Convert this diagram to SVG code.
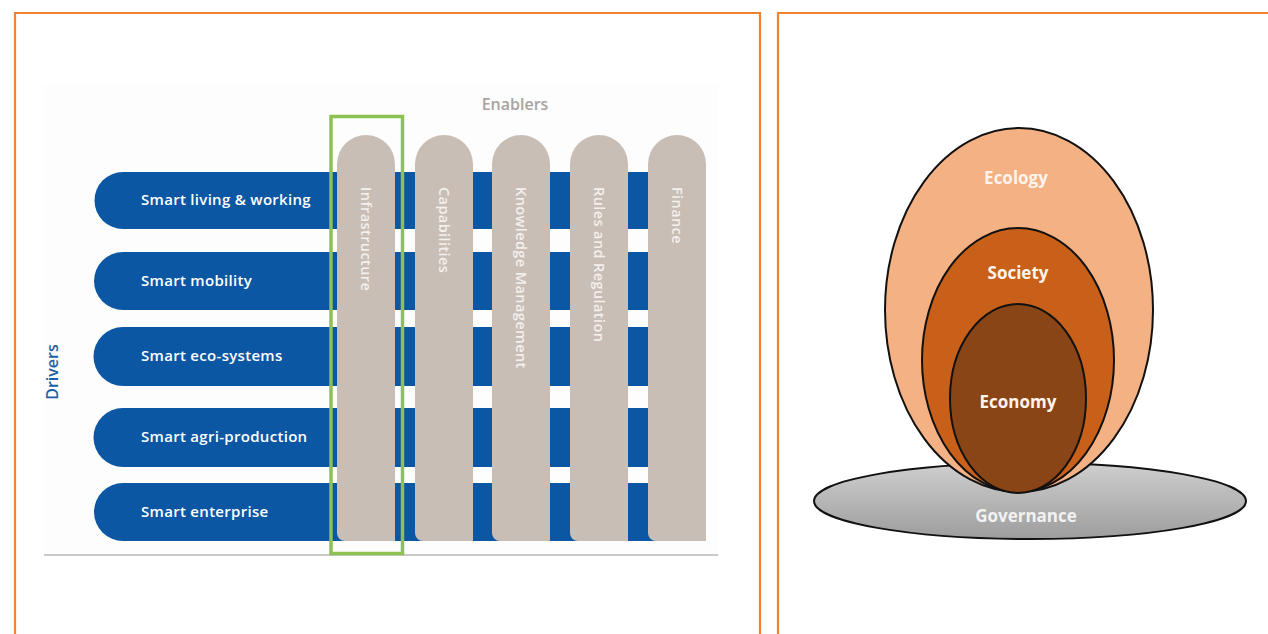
<svg xmlns="http://www.w3.org/2000/svg" width="1268" height="634" viewBox="0 0 1268 634">
<style>
.frame{fill:none;stroke:#f08330;stroke-width:2.2}
.bar{fill:#0b57a4}
.pillar{fill:#c8beb6}
.rowtxt{font-family:"Open Sans","Liberation Sans",sans-serif;font-weight:600;font-size:15px;letter-spacing:0.3px;fill:#ffffff}
.ptxt{font-family:"Open Sans","Liberation Sans",sans-serif;font-weight:600;font-size:14.5px;letter-spacing:0.4px;fill:#f4f0ec}
.egg{stroke:#111;stroke-width:2}
.eggtxt{font-family:"Open Sans","Liberation Sans",sans-serif;font-weight:700;font-size:17px;text-anchor:middle;fill:#fff4ec}
</style>
<defs>
<linearGradient id="gov" x1="0" y1="0" x2="0" y2="1">
<stop offset="0" stop-color="#cfcfcf"/>
<stop offset="1" stop-color="#9d9d9d"/>
</linearGradient>
</defs>
<rect width="1268" height="634" fill="#ffffff"/>
<g id="frames">
<path class="frame" d="M15,640 V13 H760 V640"/>
<path class="frame" d="M778,640 V13 H1275"/>
</g>
<g id="left-panel">
<rect x="44" y="85" width="674" height="470" fill="#fdfdfd"/>
<line x1="44" y1="555" x2="718" y2="555" stroke="#c9c9c9" stroke-width="2"/>
<text x="515" y="110" text-anchor="middle" font-family="Open Sans, Liberation Sans, sans-serif" font-weight="600" font-size="16" fill="#a9a39e">Enablers</text>
<text transform="translate(58,372) rotate(-90)" text-anchor="middle" font-family="Open Sans, Liberation Sans, sans-serif" font-weight="600" font-size="16" fill="#1c5fa8">Drivers</text>
<g id="drivers">
<g id="row1"><path class="bar" d="M123,172 H655 V229 H123 A28.5,28.5 0 0 1 123,172 Z"/></g>
<g id="row2"><path class="bar" d="M123,252 H655 V310 H123 A29,29 0 0 1 123,252 Z"/></g>
<g id="row3"><path class="bar" d="M123,327 H655 V386 H123 A29.5,29.5 0 0 1 123,327 Z"/></g>
<g id="row4"><path class="bar" d="M123,408 H655 V467 H123 A29.5,29.5 0 0 1 123,408 Z"/></g>
<g id="row5"><path class="bar" d="M123,483 H655 V541 H123 A29,29 0 0 1 123,483 Z"/></g>
</g>
<g id="enablers">
<g id="p1"><path class="pillar" d="M337,164 A29,29 0 0 1 395,164 V541 H345 A8,8 0 0 1 337,533 Z"/>
<text class="ptxt" transform="translate(361,187) rotate(90)">Infrastructure</text></g>
<g id="p2"><path class="pillar" d="M415,164 A29,29 0 0 1 473,164 V541 H423 A8,8 0 0 1 415,533 Z"/>
<text class="ptxt" transform="translate(439,187) rotate(90)">Capabilities</text></g>
<g id="p3"><path class="pillar" d="M492,164 A29,29 0 0 1 550,164 V541 H500 A8,8 0 0 1 492,533 Z"/>
<text class="ptxt" transform="translate(516,187) rotate(90)">Knowledge Management</text></g>
<g id="p4"><path class="pillar" d="M570,164 A29,29 0 0 1 628,164 V541 H578 A8,8 0 0 1 570,533 Z"/>
<text class="ptxt" transform="translate(594,187) rotate(90)">Rules and Regulation</text></g>
<g id="p5"><path class="pillar" d="M648,164 A29,29 0 0 1 706,164 V541 H656 A8,8 0 0 1 648,533 Z"/>
<text class="ptxt" transform="translate(672,187) rotate(90)">Finance</text></g>
</g>
<g id="row-labels">
<text class="rowtxt" x="141" y="205">Smart living &amp; working</text>
<text class="rowtxt" x="141" y="286">Smart mobility</text>
<text class="rowtxt" x="141" y="361">Smart eco-systems</text>
<text class="rowtxt" x="141" y="442">Smart agri-production</text>
<text class="rowtxt" x="141" y="517">Smart enterprise</text>
</g>
<rect id="highlight" x="331" y="116.5" width="71.5" height="437" fill="none" stroke="#8dc151" stroke-width="3.5"/>
</g>
<g id="right-panel">
<g id="governance">
<ellipse cx="1030" cy="501" rx="216" ry="38" fill="url(#gov)" stroke="#111" stroke-width="2"/>
<text class="eggtxt" x="1026" y="522" style="fill:#f2f2f2">Governance</text>
</g>
<g id="ecology">
<ellipse class="egg" cx="1019" cy="310" rx="134" ry="182" fill="#f4b183"/>
<text class="eggtxt" x="1016" y="184">Ecology</text>
</g>
<g id="society">
<ellipse class="egg" cx="1018" cy="360" rx="96" ry="132" fill="#c8601a"/>
<text class="eggtxt" x="1018" y="279">Society</text>
</g>
<g id="economy">
<ellipse class="egg" cx="1018" cy="398.5" rx="68" ry="94.5" fill="#8a4516"/>
<text class="eggtxt" x="1018" y="408">Economy</text>
</g>
</g>
</svg>
